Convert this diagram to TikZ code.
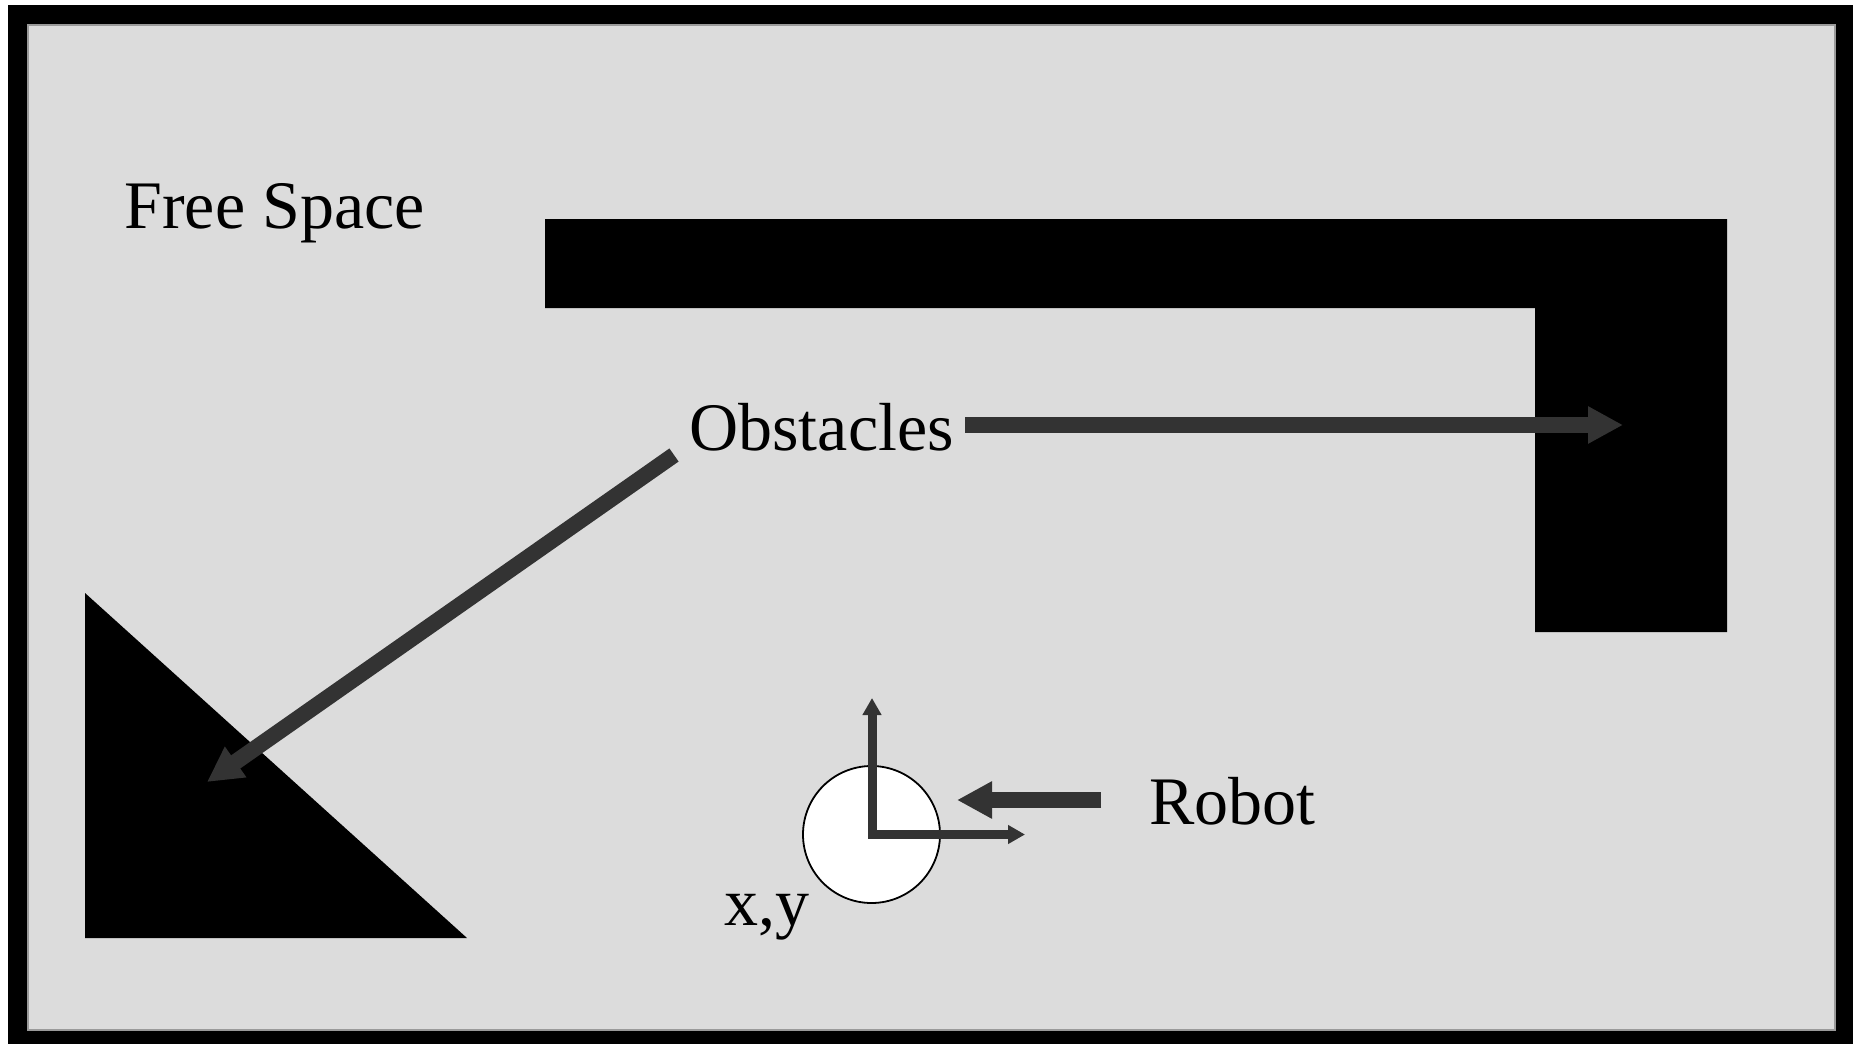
\documentclass[tikz,border=0pt]{standalone}
\usepackage{fontspec}
\setmainfont{Liberation Serif}
\usetikzlibrary{arrows.meta}
\definecolor{bggray}{HTML}{DCDCDC}
\definecolor{edgegray}{HTML}{9A9A9A}
\definecolor{arrowgray}{HTML}{333333}
\begin{document}
\begin{tikzpicture}[x=0.5pt,y=-0.5pt,
  lbl/.style={anchor=base west,inner sep=0pt,font=\fontsize{34}{40}\selectfont},
  bigarrow/.style={draw=arrowgray,line width=8pt,-{Triangle[length=17.5pt,width=17.5pt]},color=arrowgray},
  axisarrow/.style={draw=arrowgray,line width=4.5pt,{Triangle[length=8.5pt,width=9pt]}-{Triangle[length=8.5pt,width=9pt]},color=arrowgray},
  obst/.style={fill=black},
  robotbody/.style={circle,draw=black,fill=white,line width=0.9pt,minimum size=68.5pt,inner sep=0pt}]
\useasboundingbox (0,0) rectangle (1858,1044);
\fill[white] (0,0) rectangle (1858,1044);
\fill[black] (8,5) rectangle (1853,1044);
\filldraw[fill=bggray,draw=edgegray,line width=0.6pt] (28,25) rectangle (1835,1030);
% obstacles
\fill[obst] (545,219) -- (1727,219) -- (1727,632) -- (1535,632) -- (1535,308) -- (545,308) -- cycle;
\fill[obst] (85,593) -- (467,938) -- (85,938) -- cycle;
% labels
\node[lbl] (free) at (124,228) {Free Space};
\node[lbl] (obs) at (689,450) {Obstacles};
\node[lbl] (rlabel) at (1149,824) {Robot};
\node[lbl] (xy) at (724,925) {x,y};
% robot
\node[robotbody] (robot) at (871.5,834.5) {};
\coordinate (orig) at (872,834.5);
\coordinate (ytip) at (872,698);
\coordinate (xtip) at (1025,834.5);
\draw[axisarrow] (ytip) -- (orig) -- (xtip);
% arrows
\coordinate (obsRs) at (965,425);
\coordinate (obsRt) at (1623,425);
\coordinate (obsLs) at (674,455);
\coordinate (obsLt) at (207,782);
\coordinate (robs) at (1101,800);
\coordinate (robt) at (957,800);
\draw[bigarrow] (obsRs) -- (obsRt);
\draw[bigarrow] (obsLs) -- (obsLt);
\draw[bigarrow] (robs) -- (robt);
\end{tikzpicture}
\end{document}
